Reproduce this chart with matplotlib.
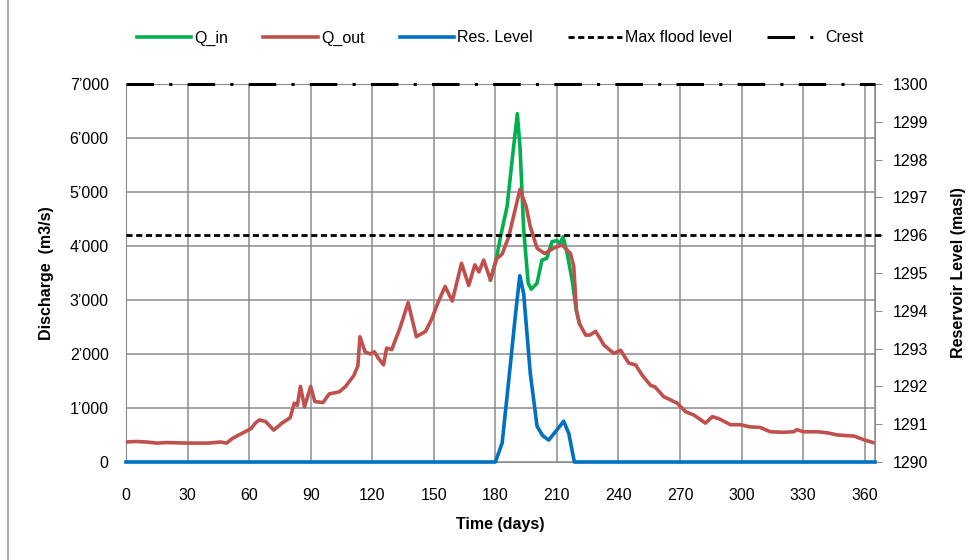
import numpy as np
import matplotlib.pyplot as plt
from matplotlib.lines import Line2D
from matplotlib.ticker import FuncFormatter

plt.rcParams['font.family'] = ['Liberation Sans Narrow', 'Liberation Sans', 'DejaVu Sans']

# Discharge out of the reservoir (m3/s)
q_out_day = [0, 5, 10, 15, 20, 30, 40, 46, 49, 52, 57, 61, 63, 65, 68, 72, 76, 80, 82, 83.5,
             85, 87, 90, 92, 96, 99, 104, 107, 111, 113, 114, 116.5, 119, 121, 123, 125.5, 127,
             129.5, 133.5, 137.5, 141.5, 146, 149, 152, 155.5, 159, 163.5, 167, 170, 172, 174.3,
             177.6, 180.5, 183.3, 186.5, 189.8, 192, 195, 197, 200.3, 204, 208.4, 212.5, 216.6,
             218.2, 219.5, 221, 224, 226, 228.8, 231, 232.8, 237.7, 241, 245, 248.3, 251.5,
             255.6, 257.8, 262, 268.6, 272.7, 276.7, 279, 282.4, 285.7, 289, 294.6, 299.5, 304,
             309, 314, 320.5, 325.4, 327, 330, 337, 341.8, 346.7, 354.8, 359.7, 365]
q_out = [370, 380, 370, 350, 360, 350, 350, 370, 350, 440, 540, 620, 720, 780, 750, 590, 720,
         820, 1090, 1050, 1400, 1020, 1400, 1120, 1100, 1260, 1300, 1400, 1600, 1780, 2320, 2040,
         2000, 2040, 1920, 1800, 2110, 2080, 2480, 2950, 2320, 2420, 2650, 2950, 3250, 2980, 3680,
         3270, 3650, 3520, 3740, 3370, 3760, 3850, 4170, 4700, 5050, 4730, 4360, 3960, 3860, 3960,
         4020, 3860, 3620, 2800, 2560, 2350, 2350, 2420, 2290, 2170, 2010, 2070, 1830, 1800, 1610,
         1420, 1390, 1210, 1090, 930, 870, 810, 720, 840, 800, 690, 690, 650, 640, 560, 550, 560,
         600, 560, 560, 540, 500, 480, 410, 350]

# Inflow during the flood (elsewhere it coincides with the outflow)
q_in_day = [177.6, 180.5, 182.5, 185.7, 188, 190.7, 192, 193.8, 196, 197.5, 200.3, 202.7, 205,
            207.6, 210, 211.5, 213, 215, 217.4, 219.5, 221]
q_in = [3370, 3760, 4170, 4730, 5530, 6450, 5840, 4300, 3310, 3200, 3310, 3740, 3770, 4080,
        4100, 4040, 4170, 3860, 3370, 2800, 2560]

# Reservoir level (masl)
lvl_day = [0, 180, 183.3, 186.5, 189.8, 191.9, 193.8, 197, 200.3, 203, 206, 210, 213.3, 215.8,
           218.5, 365]
lvl = [1290, 1290, 1290.5, 1292.15, 1293.9, 1294.93, 1294.45, 1292.35, 1290.95, 1290.7,
       1290.58, 1290.85, 1291.08, 1290.75, 1290, 1290]

max_flood = 1296
crest = 1300

fig = plt.figure(figsize=(9.71, 5.60), dpi=100)
ax = fig.add_axes([126/971, 1 - 462/560, (875 - 126)/971, (462 - 84)/560])
ax2 = ax.twinx()

grid_c = '#8c8c8c'
ax.set_xlim(0, 365)
ax.set_ylim(0, 7000)
ax.set_xticks(np.arange(0, 361, 30))
ax.set_yticks(np.arange(0, 7001, 1000))
ax.grid(True, color=grid_c, lw=1.1)
ax.yaxis.set_major_formatter(FuncFormatter(
    lambda v, p: '0' if v == 0 else f'{int(v)//1000}\u2019{int(v)%1000:03d}'))
ax.tick_params(axis='x', length=0, labelsize=11.5, pad=18.5)
ax.tick_params(axis='y', length=0, labelsize=11.5, pad=12.5)
for s in ax.spines.values():
    s.set_color(grid_c)

c_in, c_out, c_lvl = '#00b050', '#c0504d', '#0070c0'
l1, = ax.plot(q_in_day, q_in, color=c_in, lw=2.6, zorder=3)
l2, = ax.plot(q_out_day, q_out, color=c_out, lw=2.6, zorder=4)

ax2.set_ylim(1290, 1300)
ax2.set_yticks(np.arange(1290, 1301, 1))
ax2.tick_params(axis='y', length=5, color=grid_c, labelsize=11.5, pad=8)
for s in ax2.spines.values():
    s.set_visible(False)
l3, = ax2.plot(lvl_day, lvl, color=c_lvl, lw=2.6, clip_on=False, zorder=5)
l4 = ax2.axhline(max_flood, color='black', lw=2, ls=(0, (2.2, 1.3)), xmax=1.012,
                 clip_on=False)
l5 = ax2.axhline(crest, color='black', lw=2.2, ls=(0, (9, 5, 1, 5)), clip_on=False)
ax2.axvline(365, color=grid_c, lw=1.1, zorder=0)

ax.set_xlabel('Time (days)', fontsize=11.5, fontweight='bold', labelpad=10)
ax.set_ylabel('Discharge  (m3/s)', fontsize=11.5, fontweight='bold', labelpad=11)
ax2.set_ylabel('Reservoir Level (masl)', fontsize=11.5, fontweight='bold', labelpad=16)

fig.legend([l1, l2, l3, l4, l5], ['Q_in', 'Q_out', 'Res. Level', 'Max flood level', 'Crest'],
           loc='center', bbox_to_anchor=(500/971, 1 - 38/560), ncol=5, frameon=False,
           fontsize=11.5, handlelength=3.4, handletextpad=0.2, columnspacing=2.2)

# page margin line on the left
fig.add_artist(Line2D([8/971, 8/971], [0, 1], color='#a0a0a0', lw=1.2))

fig.savefig('out.png', dpi=100)
